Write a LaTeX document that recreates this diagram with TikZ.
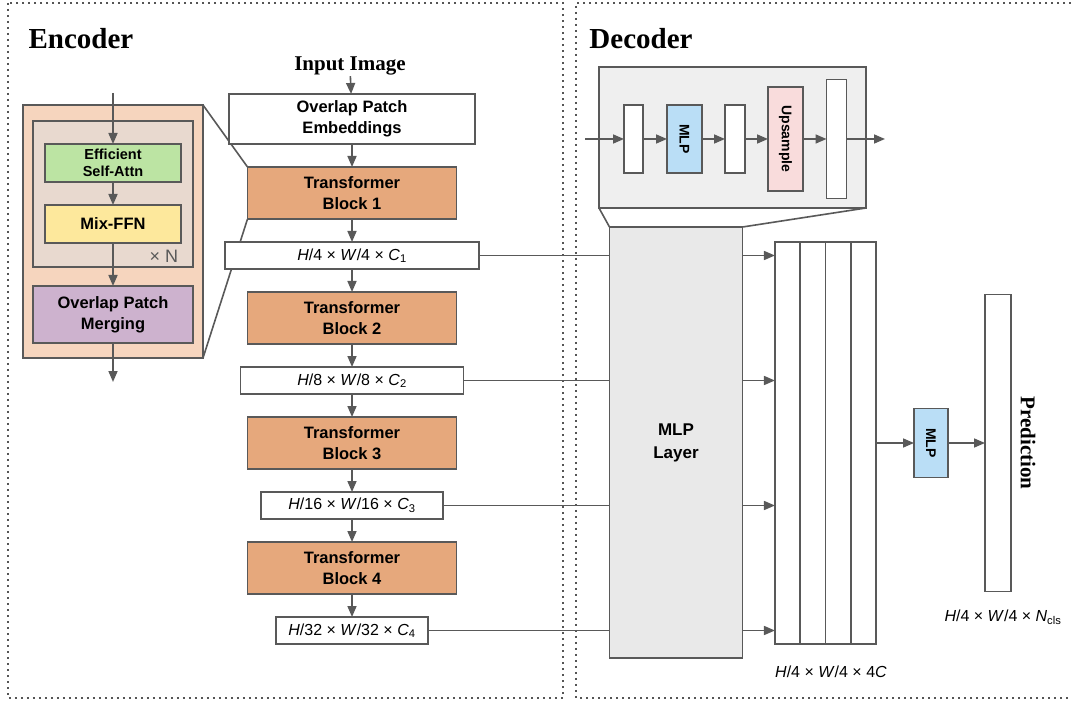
\documentclass[tikz,border=0pt]{standalone}
\usepackage{fontspec}
\setmainfont{Liberation Serif}
\setsansfont{Liberation Sans}
\usepackage{tikz}
\usetikzlibrary{arrows.meta, positioning, backgrounds}
\definecolor{lgray}{RGB}{89, 89, 89}
\definecolor{fgray}{RGB}{85, 85, 85}
\definecolor{mpeach}{RGB}{246, 213, 190}
\definecolor{mtaupe}{RGB}{232, 217, 207}
\definecolor{mgreen}{RGB}{188, 228, 163}
\definecolor{myellow}{RGB}{253, 232, 156}
\definecolor{mpurple}{RGB}{205, 178, 206}
\definecolor{morange}{RGB}{230, 168, 124}
\definecolor{mblue}{RGB}{186, 222, 246}
\definecolor{mpink}{RGB}{249, 220, 220}
\definecolor{mlight}{RGB}{239, 239, 239}
\definecolor{mlayer}{RGB}{233, 233, 233}
\newcommand{\fs}[2]{\fontsize{#1}{#2}\selectfont}
\newcommand{\hw}[1]{\textit{H}/#1 × \textit{W}/#1 ×}

\begin{document}
\begin{tikzpicture}[
      x=1pt, y=-1pt,
      node distance=23pt,
      every node/.style={outer sep=0pt},
      box/.style ={draw=lgray, line width=1.8pt, align=center,
                   font=\sffamily\bfseries\fs{16.5}{21}},
      tbox/.style={box, fill=morange, minimum width=209pt, minimum height=52pt},
      fbox/.style={draw=lgray, line width=1.8pt, fill=white, minimum height=27pt,
                   font=\sffamily\fs{16}{19}},
      vbox/.style={draw=lgray, line width=1.8pt, fill=white, minimum height=68pt,
                   inner sep=0pt, font=\sffamily\bfseries\fs{14}{16}},
      arr/.style={-{Triangle[length=11pt, width=9pt]}, line width=1.6pt, lgray},
      line/.style={line width=1.6pt, lgray},
      frame/.style={line width=1.6pt, fgray, dash pattern=on 1.6pt off 4.4pt},
      title/.style={font=\rmfamily\bfseries\fs{29}{32}, inner sep=1pt},
      sub/.style={font=\rmfamily\bfseries\fs{21}{24}, inner sep=1pt},
      dim/.style={font=\sffamily\fs{16}{19}},
    ]
      \useasboundingbox (0,0) rectangle (1071,703);
      \draw[frame] (8,3) rectangle (563,698);
      \draw[frame] (1071,3) -- (576,3) -- (576,698) -- (1071,698);
      \node[title] (enc) at (81,39)  {Encoder};
      \node[title] (dec) at (641,39) {Decoder};

      % encoder column
      \node[sub] (img) at (350,66) {Input Image};
      \node[box, fill=white, minimum width=246pt, minimum height=50pt] (ope) at (352,119)
            {Overlap Patch\\Embeddings};
      \node[tbox, below=of ope] (tb1) {Transformer\\Block 1};
      \node[fbox, minimum width=254pt, below=of tb1] (f1) {\hw{4} \textit{C}\textsubscript{1}};
      \node[tbox, below=of f1]  (tb2) {Transformer\\Block 2};
      \node[fbox, minimum width=223pt, below=of tb2] (f2) {\hw{8} \textit{C}\textsubscript{2}};
      \node[tbox, below=of f2]  (tb3) {Transformer\\Block 3};
      \node[fbox, minimum width=182pt, below=of tb3] (f3) {\hw{16} \textit{C}\textsubscript{3}};
      \node[tbox, below=of f3]  (tb4) {Transformer\\Block 4};
      \node[fbox, minimum width=152pt, below=of tb4] (f4) {\hw{32} \textit{C}\textsubscript{4}};
      \draw[arr] (img) -- (ope);
      \draw[arr] (ope) -- (tb1);
      \draw[arr] (tb1) -- (f1);
      \draw[arr] (f1)  -- (tb2);
      \draw[arr] (tb2) -- (f2);
      \draw[arr] (f2)  -- (tb3);
      \draw[arr] (tb3) -- (f3);
      \draw[arr] (f3)  -- (tb4);
      \draw[arr] (tb4) -- (f4);

      % block detail
      \node[draw=lgray, line width=1.8pt, fill=mpeach, minimum width=180pt, minimum height=253pt]
            (mix) at (113,231.5) {};
      \node[draw=lgray, line width=1.8pt, fill=mtaupe, minimum width=160pt, minimum height=146pt]
            (rep) at (113,194) {};
      \node[box, fill=mgreen, minimum width=136pt, minimum height=38pt,
            font=\sffamily\bfseries\fs{14.5}{17}] (esa) at (113,163) {Efficient\\Self-Attn};
      \node[box, fill=myellow, minimum width=136pt, minimum height=38pt] (ffn) at (113,224) {Mix-FFN};
      \node[box, fill=mpurple, minimum width=160pt, minimum height=57pt] (opm) at (113,314.5)
            {Overlap Patch\\Merging};
      \node[font=\sffamily\fs{18}{20}, text=lgray] (rep-n) at (164,256) {× N};
      \coordinate (blk-in)  at (113,93);
      \coordinate (blk-out) at (113,382);
      \draw[arr] (blk-in) -- (esa);
      \draw[arr] (esa) -- (ffn);
      \draw[arr] (ffn) -- (opm);
      \draw[arr] (opm) -- (blk-out);
      \begin{scope}[on background layer]
        \draw[line] (mix.north east) -- (tb1.north west);
        \draw[line] (mix.south east) -- (tb1.south west);
      \end{scope}

      % decoder detail
      \node[draw=lgray, line width=1.8pt, fill=mlight, minimum width=267pt, minimum height=141pt]
            (head) at (732.5,137.5) {};
      \node[vbox, minimum width=19pt] (dc1) at (633.5,139) {};
      \node[vbox, minimum width=35pt, fill=mblue] (dmlp) at (684.5,139) {\rotatebox{-90}{MLP}};
      \node[vbox, minimum width=20pt] (dc2) at (735,139) {};
      \node[vbox, minimum width=35pt, minimum height=104pt, fill=mpink] (dup) at (785.5,139)
            {\rotatebox{-90}{Upsample}};
      \node[vbox, minimum width=20pt, minimum height=119pt] (dc3) at (836.5,139) {};
      \coordinate (head-in)  at (585,139);
      \coordinate (head-out) at (885,139);
      \draw[arr] (head-in) -- (dc1);
      \draw[arr] (dc1)  -- (dmlp);
      \draw[arr] (dmlp) -- (dc2);
      \draw[arr] (dc2)  -- (dup);
      \draw[arr] (dup)  -- (dc3);
      \draw[arr] (dc3)  -- (head-out);

      % decoder
      \node[box, fill=mlayer, minimum width=133pt, minimum height=431pt,
            font=\sffamily\bfseries\fs{17}{23}] (mlpl) at (676,442.5) {MLP\\Layer};
      \draw[line] (head.south west) -- (mlpl.north west);
      \draw[line] (head.south east) -- (mlpl.north east);
      \foreach \i/\cx in {1/787.6, 2/812.9, 3/838.1, 4/863.4}
        \node[draw=lgray, line width=1.8pt, fill=white, minimum width=25.3pt,
              minimum height=402pt] (s\i) at (\cx,443) {};
      \foreach \i in {1,...,4} {
        \draw[line] (f\i.east) -- (f\i.east -| mlpl.west);
        \draw[arr] (f\i.east -| mlpl.east) -- (f\i.east -| s1.west);
      }
      \node[dim] (s-dim) at (831,672) {\hw{4} 4\textit{C}};
      \node[vbox, minimum width=34pt, minimum height=69pt, fill=mblue] (mlp2) at (931,443)
            {\rotatebox{-90}{MLP}};
      \node[vbox, minimum width=26pt, minimum height=297pt] (pred) at (998,443) {};
      \draw[arr] (s4) -- (mlp2);
      \draw[arr] (mlp2) -- (pred);
      \node[sub, rotate=-90] (pred-t) at (1028,443) {Prediction};
      \node[dim] (p-dim) at (1003,617) {\hw{4} \textit{N}\textsubscript{cls}};
    \end{tikzpicture}
\end{document}
